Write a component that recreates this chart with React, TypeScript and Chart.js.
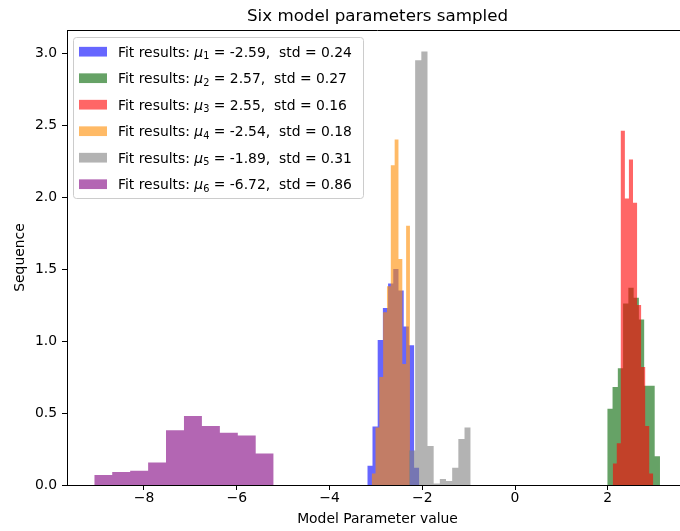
import React, { useEffect, useRef } from 'react';
import { Chart, registerables } from 'chart.js';

Chart.register(...registerables);

// ---- axis ticks ----
const xTicks = [-8, -6, -4, -2, 0, 2];
const yTicks = [0, 0.5, 1.0, 1.5, 2.0, 2.5, 3.0];

// ---- histogram bin edges and densities ----
const blueEdges = [-3.185, -3.073, -2.961, -2.849, -2.737, -2.625, -2.512, -2.400, -2.288, -2.176, -2.064];
const blueHeights = [0.134, 0.407, 1.007, 1.23, 1.4, 1.5, 1.35, 1.1, 0.97, 0.12];

const greenEdges = [1.989, 2.103, 2.217, 2.330, 2.444, 2.558, 2.671, 2.785, 2.899, 3.012, 3.126];
const greenHeights = [0.53, 0.68, 0.81, 1.26, 1.37, 1.30, 1.15, 0.69, 0.69, 0.2];

const redEdges = [2.106, 2.194, 2.281, 2.369, 2.456, 2.544, 2.632, 2.719, 2.807, 2.894, 2.982];
const redHeights = [0.15, 0.29, 2.46, 1.99, 2.26, 1.96, 1.25, 0.82, 0.41, 0.08];

const orangeEdges = [-3.091, -3.008, -2.926, -2.843, -2.761, -2.678, -2.595, -2.513, -2.430, -2.348, -2.265];
const orangeHeights = [0.08, 0.4, 0.75, 1.2, 1.38, 2.22, 2.40, 1.57, 0.84, 1.80];

const grayEdges = [-2.286, -2.153, -2.020, -1.887, -1.754, -1.621, -1.488, -1.355, -1.222, -1.089, -0.956];
const grayHeights = [0.24, 2.95, 3.01, 0.27, 0.01, 0.042, 0.028, 0.12, 0.32, 0.40];

const purpleEdges = [-9.072, -8.685, -8.298, -7.911, -7.525, -7.138, -6.751, -6.364, -5.977, -5.591, -5.204];
const purpleHeights = [0.069, 0.09, 0.099, 0.157, 0.38, 0.479, 0.41, 0.363, 0.343, 0.218];

// ---- legend texts ----
const fitMeans = ['-2.59', '2.57', '2.55', '-2.54', '-1.89', '-6.72'];
const fitStds = ['0.24', '0.27', '0.16', '0.18', '0.31', '0.86'];
const fitIndex = ['1', '2', '3', '4', '5', '6'];

const seriesColors = [
  'rgba(0,0,255,0.6)',
  'rgba(0,100,0,0.6)',
  'rgba(255,0,0,0.6)',
  'rgba(255,140,0,0.6)',
  'rgba(128,128,128,0.6)',
  'rgba(128,0,128,0.6)',
];

const seriesEdges = [blueEdges, greenEdges, redEdges, orangeEdges, grayEdges, purpleEdges];
const seriesHeights = [blueHeights, greenHeights, redHeights, orangeHeights, grayHeights, purpleHeights];

const titleText = 'Six model parameters sampled';
const xTitle = 'Model Parameter value';
const yTitle = 'Sequence';

const FONT = '"DejaVu Sans"';
const FS = 13.9;

const fmtX = (v: number) => (v < 0 ? '\u2212' + Math.abs(v) : String(v));

const framePlugin = {
  id: 'frame',
  afterDraw(chart: any) {
    const { ctx, chartArea } = chart;
    const { left, right, top } = chartArea;
    ctx.save();
    // top spine
    ctx.strokeStyle = '#000';
    ctx.lineWidth = 1;
    ctx.beginPath();
    ctx.moveTo(left, Math.round(top) + 0.5);
    ctx.lineTo(right, Math.round(top) + 0.5);
    ctx.stroke();

    // title
    ctx.fillStyle = '#000';
    ctx.font = `16.7px ${FONT}`;
    ctx.textAlign = 'center';
    ctx.textBaseline = 'alphabetic';
    ctx.fillText(titleText, (left + right) / 2, 21);

    // legend
    const bx = 73.5, by = 37.5, bw = 290, bh = 161, r = 3;
    ctx.beginPath();
    ctx.moveTo(bx + r, by);
    ctx.lineTo(bx + bw - r, by);
    ctx.quadraticCurveTo(bx + bw, by, bx + bw, by + r);
    ctx.lineTo(bx + bw, by + bh - r);
    ctx.quadraticCurveTo(bx + bw, by + bh, bx + bw - r, by + bh);
    ctx.lineTo(bx + r, by + bh);
    ctx.quadraticCurveTo(bx, by + bh, bx, by + bh - r);
    ctx.lineTo(bx, by + r);
    ctx.quadraticCurveTo(bx, by, bx + r, by);
    ctx.closePath();
    ctx.fillStyle = 'rgba(255,255,255,0.8)';
    ctx.fill();
    ctx.strokeStyle = '#cccccc';
    ctx.stroke();

    ctx.textAlign = 'left';
    for (let i = 0; i < fitMeans.length; i++) {
      const cy = 51.7 + i * 26.5;
      ctx.fillStyle = seriesColors[i];
      ctx.fillRect(79, cy - 4.85, 28, 9.7);
      const base = cy + 5;
      let x = 118;
      ctx.fillStyle = '#000';
      ctx.font = `${FS}px ${FONT}`;
      const t1 = 'Fit results: ';
      ctx.fillText(t1, x, base);
      x += ctx.measureText(t1).width;
      ctx.font = `italic ${FS}px ${FONT}`;
      ctx.fillText('\u03bc', x, base);
      x += ctx.measureText('\u03bc').width;
      ctx.font = `${(FS * 0.7).toFixed(2)}px ${FONT}`;
      ctx.fillText(fitIndex[i], x, base + 2.5);
      x += ctx.measureText(fitIndex[i]).width;
      ctx.font = `${FS}px ${FONT}`;
      ctx.fillText(` = ${fitMeans[i]},  std = ${fitStds[i]}`, x, base);
    }
    ctx.restore();
  },
};

export default function App() {
  const ref = useRef<HTMLCanvasElement>(null);

  useEffect(() => {
    const canvas = ref.current;
    if (!canvas) return;
    Chart.defaults.font.family = FONT;
    Chart.defaults.font.size = FS;
    Chart.defaults.color = '#000';

    const datasets = seriesEdges.map((edges, i) => {
      const h = seriesHeights[i];
      return {
        label: 'series' + fitIndex[i],
        data: edges.map((e, k) => ({ x: e, y: h[Math.min(k, h.length - 1)] })),
        stepped: 'before' as const,
        fill: 'origin',
        backgroundColor: seriesColors[i],
        borderColor: 'rgba(0,0,0,0)',
        borderWidth: 0,
        pointRadius: 0,
        pointHoverRadius: 0,
        tension: 0,
        order: seriesEdges.length - i,
      };
    });

    const chart = new Chart(canvas, {
      type: 'line',
      data: { datasets: datasets as any },
      options: {
        animation: false,
        responsive: false,
        devicePixelRatio: 1,
        events: [],
        layout: { padding: { top: 30, right: 12, left: 0, bottom: 0 } },
        plugins: {
          legend: { display: false },
          title: { display: false },
          tooltip: { enabled: false },
        },
        scales: {
          x: {
            type: 'linear',
            min: -9.66,
            max: 3.73,
            afterBuildTicks: (s: any) => {
              s.ticks = xTicks.map((v) => ({ value: v }));
            },
            afterFit: (s: any) => {
              s.height = 46;
            },
            ticks: {
              autoSkip: false,
              maxRotation: 0,
              padding: 0,
              color: '#000',
              font: { family: FONT, size: FS },
              callback: (v: any) => fmtX(Number(v)),
            },
            grid: {
              display: true,
              drawOnChartArea: false,
              drawTicks: true,
              tickLength: 5,
              tickColor: '#000',
              tickWidth: 1,
            },
            border: { display: true, color: '#000', width: 1 },
            title: {
              display: true,
              text: xTitle,
              color: '#000',
              font: { family: FONT, size: FS },
              padding: { top: 0, bottom: 3 },
            },
          },
          y: {
            type: 'linear',
            min: 0,
            max: 3.16,
            afterBuildTicks: (s: any) => {
              s.ticks = yTicks.map((v) => ({ value: v }));
            },
            afterFit: (s: any) => {
              s.width = 67;
            },
            ticks: {
              autoSkip: false,
              padding: 5,
              color: '#000',
              font: { family: FONT, size: FS },
              callback: (v: any) => Number(v).toFixed(1),
            },
            grid: {
              display: true,
              drawOnChartArea: false,
              drawTicks: true,
              tickLength: 5,
              tickColor: '#000',
              tickWidth: 1,
            },
            border: { display: true, color: '#000', width: 1 },
            title: {
              display: true,
              text: yTitle,
              color: '#000',
              font: { family: FONT, size: FS },
              padding: { top: 12.5, bottom: 0 },
            },
          },
        },
      },
      plugins: [framePlugin],
    });

    return () => chart.destroy();
  }, []);

  return (
    <div
      style={{
        position: 'fixed',
        left: 0,
        top: 0,
        width: 680,
        height: 531,
        overflow: 'hidden',
        background: '#fff',
      }}
    >
      <canvas ref={ref} width={700} height={531} style={{ display: 'block' }} />
    </div>
  );
}
